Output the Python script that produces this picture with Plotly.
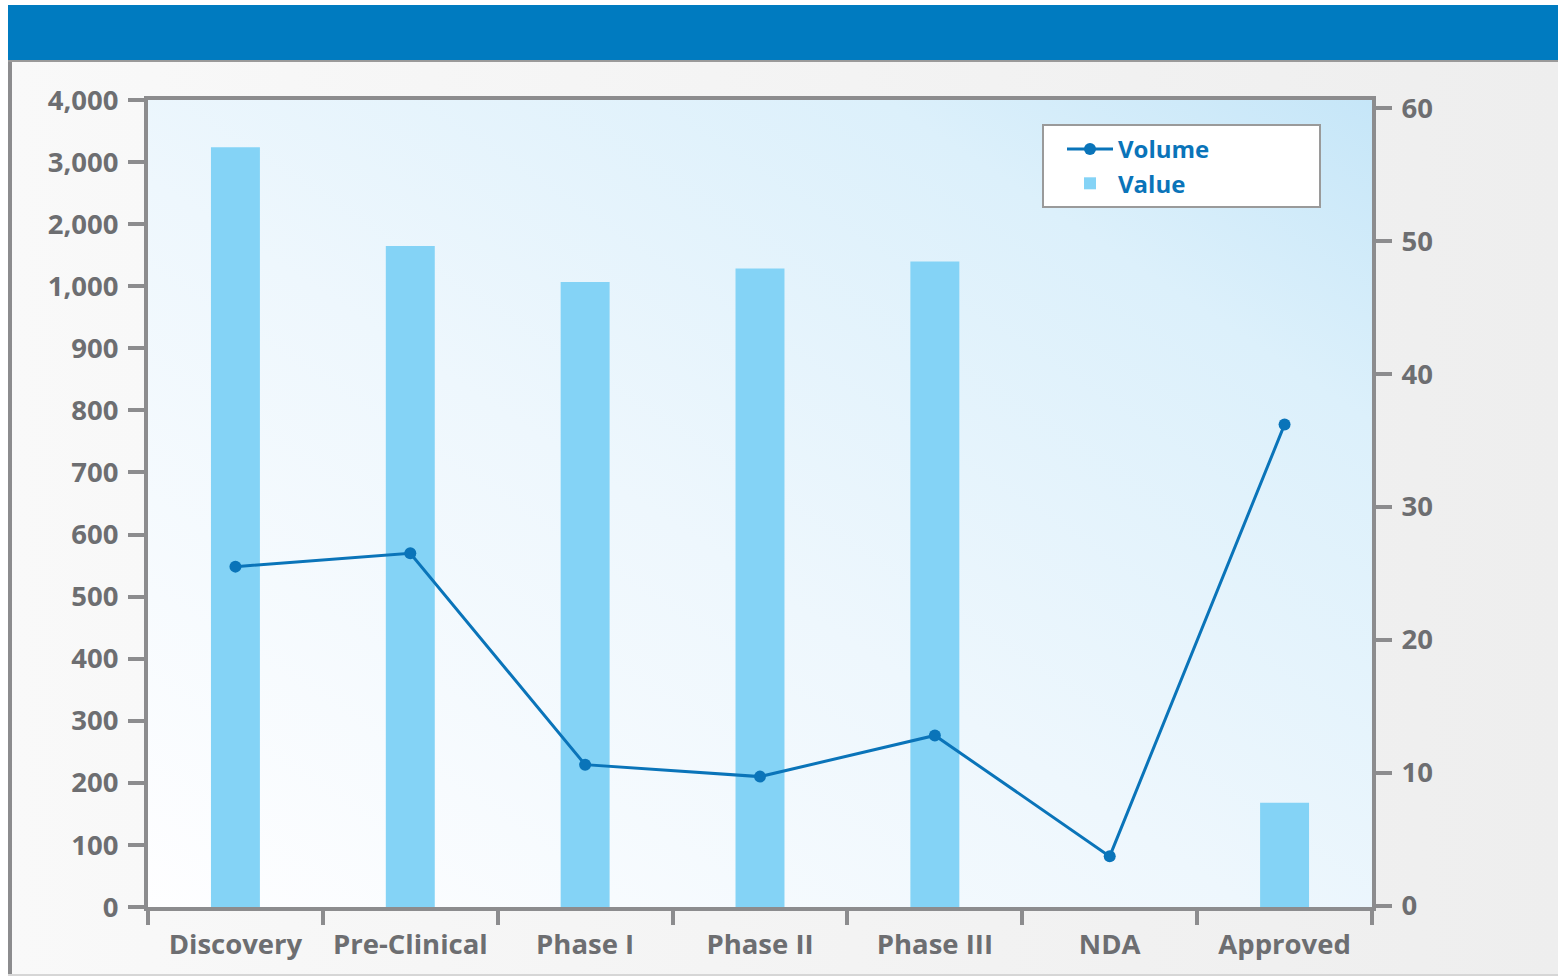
import base64
import plotly.graph_objects as go

# Pipeline stages and series
stages = ["Discovery", "Pre-Clinical", "Phase I", "Phase II", "Phase III", "NDA", "Approved"]
value = [3240, 1650, 1070, 1285, 1400, 0, 168]
volume = [25.5, 26.5, 10.6, 9.7, 12.8, 3.7, 36.2]

# Left axis: linear steps of 100 up to 1,000, then steps of 1,000
value_ticks = [0, 100, 200, 300, 400, 500, 600, 700, 800, 900, 1000, 2000, 3000, 4000]
volume_ticks = [0, 10, 20, 30, 40, 50, 60]


def value_pos(v):
    """Position on the broken value axis."""
    return v / 100 if v <= 1000 else 10 + (v - 1000) / 1000


# Figure geometry (pixels) used to place decorations in paper coordinates
W, H = 1558, 977
L, R, T, B = 148, 186, 100, 70
PW, PH = W - L - R, H - T - B


def px(x):
    return (x - L) / PW


def py(y):
    return (H - B - y) / PH


def svg_uri(svg):
    return "data:image/svg+xml;base64," + base64.b64encode(svg.encode()).decode()


panel_svg = (
    "<svg xmlns='http://www.w3.org/2000/svg' width='100' height='100' viewBox='0 0 100 100' "
    "preserveAspectRatio='none'><defs><linearGradient id='g' x1='0' y1='0' x2='1' y2='0'>"
    "<stop offset='0' stop-color='#f9f9f9'/><stop offset='1' stop-color='#eeeeee'/>"
    "</linearGradient></defs><rect width='100' height='100' fill='url(#g)'/></svg>"
)
plot_svg = (
    "<svg xmlns='http://www.w3.org/2000/svg' width='100' height='100' viewBox='0 0 100 100' "
    "preserveAspectRatio='none'><defs><linearGradient id='g' x1='0' y1='1' x2='1' y2='0'>"
    "<stop offset='0' stop-color='#fefeff'/><stop offset='0.45' stop-color='#eef7fd'/>"
    "<stop offset='0.8' stop-color='#dcf0fb'/>"
    "<stop offset='1' stop-color='#c6e6f8'/></linearGradient></defs>"
    "<rect width='100' height='100' fill='url(#g)'/></svg>"
)

GRAY = "#8c8c8e"
LABEL = "#6d6e71"
BLUE = "#0a74b9"
BAR = "#84d3f6"
tick_font = dict(family="Open Sans", size=27.5, color=LABEL, weight="bold")

fig = go.Figure()

fig.add_trace(go.Bar(
    x=stages,
    y=[value_pos(v) for v in value],
    customdata=value,
    hovertemplate="%{x}: %{customdata:,}<extra>Value</extra>",
    name="Value",
    marker=dict(color=BAR, line=dict(width=0)),
    width=0.28,
    yaxis="y",
    legendrank=2,
))

fig.add_trace(go.Scatter(
    x=stages,
    y=volume,
    name="Volume",
    mode="lines+markers",
    line=dict(color=BLUE, width=3),
    marker=dict(color=BLUE, size=12),
    yaxis="y2",
    legendrank=1,
))

fig.update_layout(
    width=W,
    height=H,
    margin=dict(l=L, r=R, t=T, b=B),
    paper_bgcolor="rgba(0,0,0,0)",
    plot_bgcolor="rgba(0,0,0,0)",
    showlegend=True,
    legend=dict(
        x=px(1062), y=py(127), xanchor="left", yanchor="top",
        bgcolor="rgba(0,0,0,0)", borderwidth=0,
        font=dict(family="Open Sans", size=24, color=BLUE, weight="bold"),
        itemwidth=46, tracegroupgap=0,
    ),
    xaxis=dict(
        type="category",
        categoryorder="array",
        categoryarray=stages,
        range=[-0.5, 6.5],
        showline=True, linecolor=GRAY, linewidth=4, mirror=True,
        ticks="outside", tickson="boundaries", ticklen=14, tickwidth=4, tickcolor=GRAY,
        tickfont=tick_font, showgrid=False, automargin=False,
        ticklabelstandoff=10,
    ),
    yaxis=dict(
        range=[0, 13],
        tickvals=[value_pos(v) for v in value_ticks],
        ticktext=[f"{v:,}" for v in value_ticks],
        showline=True, linecolor=GRAY, linewidth=4,
        ticks="outside", ticklen=16, tickwidth=4, tickcolor=GRAY,
        tickfont=tick_font, showgrid=False, zeroline=False, automargin=False,
        ticklabelstandoff=4,
    ),
    yaxis2=dict(
        overlaying="y", side="right",
        range=[-0.11, 60.61],
        tickvals=volume_ticks,
        ticktext=[str(v) for v in volume_ticks],
        showline=True, linecolor=GRAY, linewidth=4,
        ticks="outside", ticklen=16, tickwidth=4, tickcolor=GRAY,
        tickfont=tick_font, showgrid=False, zeroline=False, automargin=False,
        ticklabelstandoff=4,
    ),
    images=[
        dict(source=svg_uri(panel_svg), xref="paper", yref="paper",
             x=px(8), y=py(61), sizex=px(W) - px(8), sizey=py(61) - py(975),
             xanchor="left", yanchor="top", sizing="stretch", layer="below"),
        dict(source=svg_uri(plot_svg), xref="paper", yref="paper",
             x=0, y=1, sizex=1, sizey=1,
             xanchor="left", yanchor="top", sizing="stretch", layer="below"),
    ],
    shapes=[
        # header band
        dict(type="rect", xref="paper", yref="paper", x0=px(8), x1=px(W), y0=py(60), y1=py(5),
             fillcolor="#007bc0", line=dict(width=0), layer="below"),
        dict(type="line", xref="paper", yref="paper", x0=px(8), x1=px(W), y0=py(61), y1=py(61),
             line=dict(color="#9a9a9a", width=2), layer="below"),
        # panel frame
        dict(type="line", xref="paper", yref="paper", x0=px(10), x1=px(10), y0=py(62), y1=py(975),
             line=dict(color=GRAY, width=4), layer="below"),
        dict(type="line", xref="paper", yref="paper", x0=px(8), x1=px(W), y0=py(975), y1=py(975),
             line=dict(color="#d6d6d6", width=2), layer="below"),
        # legend box
        dict(type="rect", xref="paper", yref="paper", x0=px(1043), x1=px(1320), y0=py(207), y1=py(125),
             fillcolor="white", line=dict(color="#9a9a9a", width=2), layer="below"),
    ],
)

fig.write_html("out.html")
